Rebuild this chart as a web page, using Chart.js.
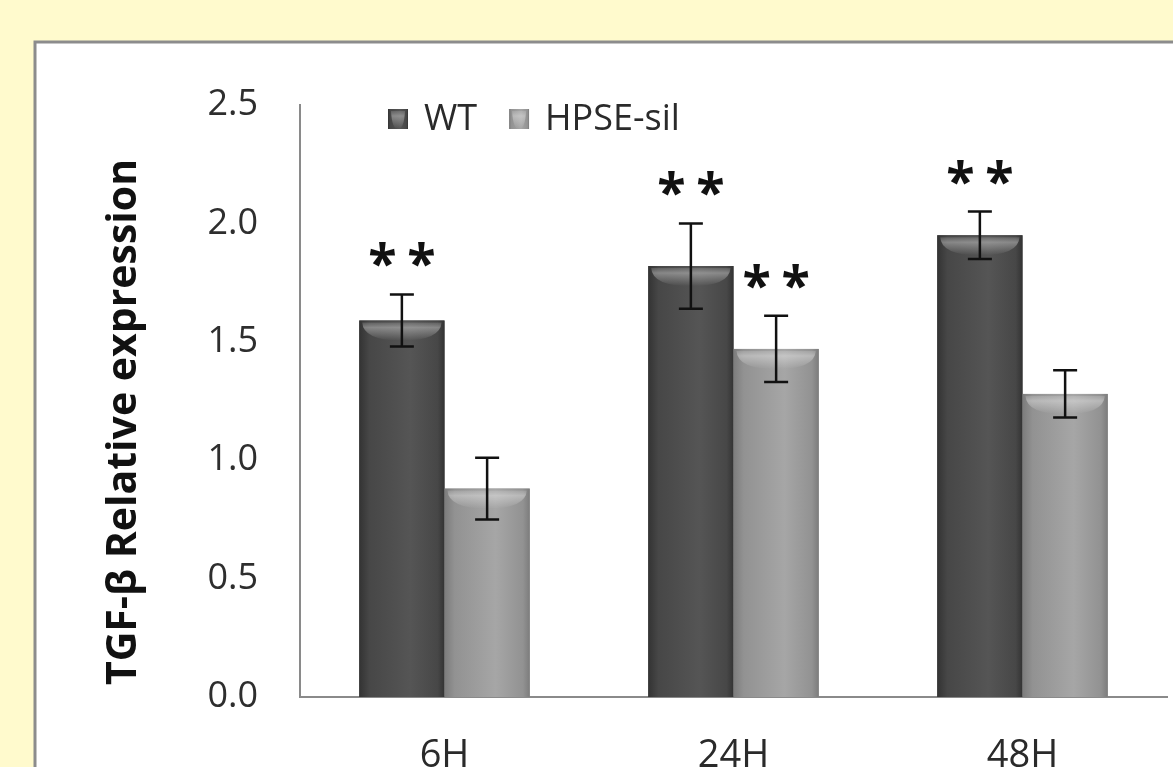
<!DOCTYPE html>
<html>
<head>
<meta charset="utf-8">
<title>TGF-β Relative expression</title>
<script src="https://cdn.jsdelivr.net/npm/chart.js"></script>
<style>
    html, body { margin: 0; padding: 0; background: #fffacd; }
    #wrap { width: 1173px; height: 767px; position: relative; }
</style>
</head>
<body>
<div id="wrap"><canvas id="tgfChart"></canvas></div>
<script>
const categories = ['6H', '24H', '48H'];
const wtValues = [1.59, 1.82, 1.95];
const wtErrors = [0.11, 0.18, 0.10];
const hpseValues = [0.88, 1.47, 1.28];
const hpseErrors = [0.13, 0.14, 0.10];
const wtMarks = ['**', '**', '**'];
const hpseMarks = ['', '**', ''];
const yTicks = [0, 0.5, 1.0, 1.5, 2.0, 2.5];
const yTitle = 'TGF-β Relative expression';

const FONT = "'Open Sans', 'Noto Sans', sans-serif";

// background + white panel with grey frame
const panelPlugin = {
    id: 'panel',
    beforeDraw(chart) {
        const ctx = chart.ctx;
        ctx.save();
        ctx.fillStyle = '#fffacd';
        ctx.fillRect(0, 0, chart.width, chart.height);
        ctx.fillStyle = '#ffffff';
        ctx.fillRect(35, 42, chart.width, chart.height);
        ctx.strokeStyle = '#8c8c8c';
        ctx.lineWidth = 3;
        ctx.strokeRect(35, 42, chart.width + 20, chart.height + 20);
        ctx.restore();
    }
};

function paintBar(ctx, left, top, width, bottom, shade) {
    const g = ctx.createLinearGradient(left, 0, left + width, 0);
    g.addColorStop(0, shade[0]);
    g.addColorStop(0.12, shade[1]);
    g.addColorStop(0.6, shade[2]);
    g.addColorStop(0.92, shade[1]);
    g.addColorStop(1, shade[0]);
    ctx.fillStyle = g;
    ctx.fillRect(left, top, width, bottom - top);

    // rounded highlight at the top of the bar
    const h = Math.min(20, bottom - top);
    const tg = ctx.createLinearGradient(0, top, 0, top + h);
    tg.addColorStop(0, 'rgba(255,255,255,0.05)');
    tg.addColorStop(0.35, 'rgba(255,255,255,0.35)');
    tg.addColorStop(1, 'rgba(255,255,255,0)');
    ctx.fillStyle = tg;
    ctx.beginPath();
    ctx.moveTo(left + 3, top + 2);
    ctx.lineTo(left + width - 3, top + 2);
    ctx.quadraticCurveTo(left + width - 4, top + h, left + width / 2, top + h);
    ctx.quadraticCurveTo(left + 4, top + h, left + 3, top + 2);
    ctx.fill();
}

// shaded bars, error bars and significance stars
const barDecorPlugin = {
    id: 'barDecor',
    afterDatasetsDraw(chart) {
        const ctx = chart.ctx;
        const y = chart.scales.y;
        ctx.save();
        chart.data.datasets.forEach((ds, di) => {
            const meta = chart.getDatasetMeta(di);
            meta.data.forEach((bar, i) => {
                const left = bar.x - bar.width / 2;
                paintBar(ctx, left, bar.y, bar.width, bar.base, ds.shade);

                const hi = y.getPixelForValue(ds.data[i] + ds.errors[i]);
                const lo = y.getPixelForValue(ds.data[i] - ds.errors[i]);
                ctx.strokeStyle = '#111';
                ctx.lineWidth = 2.5;
                ctx.beginPath();
                ctx.moveTo(bar.x, hi); ctx.lineTo(bar.x, lo);
                ctx.moveTo(bar.x - 12, hi); ctx.lineTo(bar.x + 12, hi);
                ctx.moveTo(bar.x - 12, lo); ctx.lineTo(bar.x + 12, lo);
                ctx.stroke();

                const mark = ds.marks[i];
                if (mark) {
                    ctx.fillStyle = '#111';
                    ctx.font = 'bold 52px ' + FONT;
                    ctx.textAlign = 'center';
                    ctx.textBaseline = 'alphabetic';
                    const n = mark.length;
                    for (let k = 0; k < n; k++) {
                        const sx = bar.x + (k - (n - 1) / 2) * 39;
                        ctx.fillText('*', sx, hi - 12);
                    }
                }
            });
        });
        ctx.restore();
    }
};

// rotated y title and the legend inside the plot
const labelsPlugin = {
    id: 'labels',
    afterDraw(chart) {
        const ctx = chart.ctx;
        ctx.save();
        ctx.translate(124, 422);
        ctx.rotate(-Math.PI / 2);
        ctx.fillStyle = '#111';
        ctx.font = 'bold 41px ' + FONT;
        ctx.textAlign = 'center';
        ctx.textBaseline = 'middle';
        ctx.fillText(yTitle, 0, 0);
        ctx.restore();

        ctx.save();
        let x = 388;
        const cy = 119;
        ctx.font = '36px ' + FONT;
        ctx.textBaseline = 'middle';
        ctx.textAlign = 'left';
        chart.data.datasets.forEach(ds => {
            paintBar(ctx, x, cy - 10, 20, cy + 10, ds.shade);
            ctx.fillStyle = '#2a2a2a';
            ctx.fillText(ds.label, x + 36, cy + 1);
            x += 36 + ctx.measureText(ds.label).width + 32;
        });
        ctx.restore();
    }
};

const ctx = document.getElementById('tgfChart').getContext('2d');

new Chart(ctx, {
    type: 'bar',
    data: {
        labels: categories,
        datasets: [
            {
                label: 'WT',
                data: wtValues,
                errors: wtErrors,
                marks: wtMarks,
                shade: ['#333333', '#474747', '#555555'],
                backgroundColor: '#4b4b4b',
                borderWidth: 0
            },
            {
                label: 'HPSE-sil',
                data: hpseValues,
                errors: hpseErrors,
                marks: hpseMarks,
                shade: ['#7c7c7c', '#929292', '#a6a6a6'],
                backgroundColor: '#9a9a9a',
                borderWidth: 0
            }
        ]
    },
    options: {
        responsive: true,
        maintainAspectRatio: false,
        animation: false,
        devicePixelRatio: 1,
        layout: { padding: { top: 105, right: 6, left: 0, bottom: 0 } },
        datasets: {
            bar: { categoryPercentage: 0.59, barPercentage: 1.0 }
        },
        plugins: {
            legend: { display: false },
            tooltip: { enabled: false }
        },
        scales: {
            x: {
                grid: { display: false, drawTicks: false },
                border: { display: true, color: '#8a8a8a', width: 2 },
                ticks: {
                    color: '#2a2a2a',
                    padding: 36,
                    font: { family: FONT, size: 38 }
                },
                afterFit(scale) { scale.height = 70; }
            },
            y: {
                min: 0,
                max: 2.5,
                grid: { display: false, drawTicks: false },
                border: { display: true, color: '#8a8a8a', width: 2 },
                afterBuildTicks(scale) {
                    scale.ticks = yTicks.map(v => ({ value: v }));
                },
                ticks: {
                    color: '#2e2e2e',
                    padding: 42,
                    font: { family: FONT, size: 36 },
                    callback: v => Number(v).toFixed(1)
                },
                afterFit(scale) { scale.width = 300; }
            }
        }
    },
    plugins: [panelPlugin, barDecorPlugin, labelsPlugin]
});
</script>
</body>
</html>
